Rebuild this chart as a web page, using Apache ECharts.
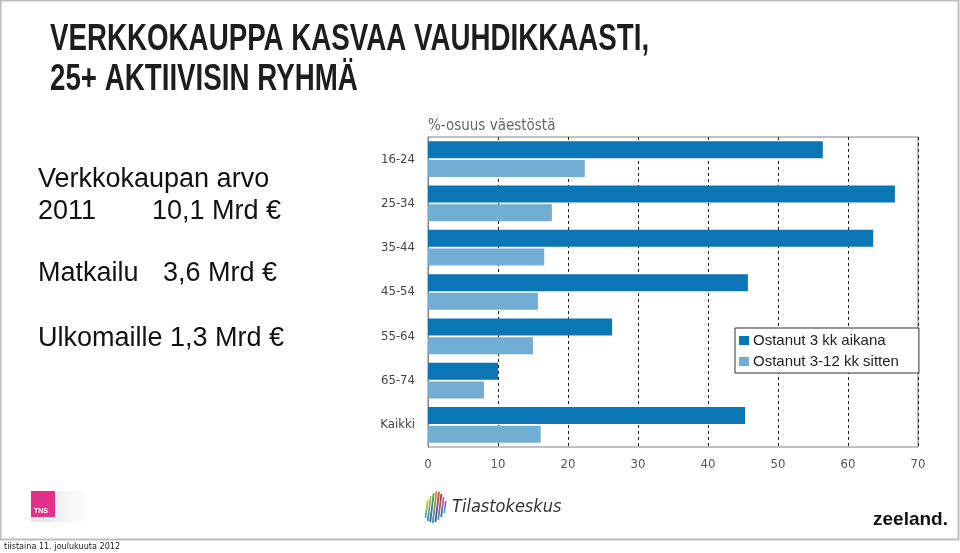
<!DOCTYPE html>
<html>
<head>
<meta charset="utf-8">
<script src="https://cdn.jsdelivr.net/npm/echarts@6/dist/echarts.min.js"></script>
<style>
  html, body { margin: 0; padding: 0; background: #fff; }
  #chart { width: 960px; height: 553px; }
</style>
</head>
<body>
<div id="chart"></div>
<script>
const ageGroups = ['16-24', '25-34', '35-44', '45-54', '55-64', '65-74', 'Kaikki']
const bought3kk = [56.4, 66.7, 63.6, 45.7, 26.3, 10.0, 45.3]
const bought3to12kk = [22.4, 17.7, 16.6, 15.7, 15.0, 8.0, 16.1]
const seriesNames = ['Ostanut 3 kk aikana', 'Ostanut 3-12 kk sitten']
const xTicks = { min: 0, max: 70, interval: 10 }

const narrow = "'DejaVu Sans Condensed', 'Liberation Sans', sans-serif"
const sans = "'Liberation Sans', Arial, sans-serif"

const chart = echarts.init(document.getElementById('chart'))

// left-hand notes from the slide
const notes = [
  { text: 'Verkkokaupan arvo', x: 38, y: 180 },
  { text: '2011', x: 38, y: 212 },
  { text: '10,1 Mrd €', x: 152, y: 212 },
  { text: 'Matkailu', x: 38, y: 274 },
  { text: '3,6 Mrd €', x: 163, y: 274 },
  { text: 'Ulkomaille 1,3 Mrd €', x: 38, y: 339 },
]

// stripes of the Tilastokeskus logo: [top colour, bottom colour, top y, bottom y]
const stripes = [
  ['#f4c400', '#39a9e0', 500, 518],
  ['#a7cc3a', '#2b86c9', 496, 521],
  ['#4cae48', '#1f63ad', 493, 522],
  ['#f08a1c', '#2f8fd0', 491, 523],
  ['#e5412d', '#1c5aa6', 492, 522],
  ['#c8232c', '#3aa6df', 494, 520],
  ['#e25a8f', '#2574bd', 497, 517],
  ['#8d5aa6', '#47b7e6', 501, 513],
]

const titleFont = 'bold 36px ' + sans

chart.setOption({
  animation: false,
  graphic: [
    // slide frame
    {
      type: 'rect',
      shape: { x: 0.5, y: 0.5, width: 958, height: 539 },
      style: { fill: 'none', stroke: '#bdbdbd', lineWidth: 2 },
      silent: true,
    },
    {
      type: 'text',
      x: 50,
      y: 40,
      scaleX: 0.77,
      style: { text: 'VERKKOKAUPPA KASVAA VAUHDIKKAASTI,', x: 0, y: 0, font: titleFont, fill: '#1d1d1d', verticalAlign: 'middle' },
    },
    {
      type: 'text',
      x: 50,
      y: 80,
      scaleX: 0.77,
      style: { text: '25+ AKTIIVISIN RYHMÄ', x: 0, y: 0, font: titleFont, fill: '#1d1d1d', verticalAlign: 'middle' },
    },
    ...notes.map((n) => ({
      type: 'text',
      style: { text: n.text, x: n.x, y: n.y, font: '27px ' + sans, fill: '#111', verticalAlign: 'middle' },
    })),
    {
      type: 'text',
      style: { text: '%-osuus väestöstä', x: 428, y: 126, font: '15px ' + narrow, fill: '#666', verticalAlign: 'middle' },
    },
    // TNS logo
    {
      type: 'rect',
      shape: { x: 31, y: 491, width: 58, height: 31 },
      style: {
        fill: new echarts.graphic.LinearGradient(0, 0, 1, 0, [
          { offset: 0, color: '#e3e3e3' },
          { offset: 1, color: '#ffffff' },
        ]),
      },
    },
    {
      type: 'rect',
      shape: { x: 31, y: 491, width: 24, height: 26 },
      style: { fill: '#e3318a' },
    },
    {
      type: 'text',
      style: { text: 'TNS', x: 34, y: 511, font: 'bold 7px ' + sans, fill: '#fff', verticalAlign: 'middle' },
    },
    // Tilastokeskus logo
    ...stripes.map((s, i) => {
      const x0 = 424 + i * 2.6
      const slant = 0.12
      return {
        type: 'polygon',
        shape: {
          points: [
            [x0 + (523 - s[2]) * slant, s[2]],
            [x0 + 1.8 + (523 - s[2]) * slant, s[2]],
            [x0 + 1.8 + (523 - s[3]) * slant, s[3]],
            [x0 + (523 - s[3]) * slant, s[3]],
          ],
        },
        style: {
          fill: new echarts.graphic.LinearGradient(0, 0, 0, 1, [
            { offset: 0, color: s[0] },
            { offset: 1, color: s[1] },
          ]),
        },
      }
    }),
    {
      type: 'text',
      style: { text: 'Tilastokeskus', x: 452, y: 507, font: 'italic 18px ' + narrow, fill: '#333', verticalAlign: 'middle' },
    },
    // zeeland logo
    {
      type: 'text',
      style: { text: 'zeeland.', x: 948, y: 520, font: 'bold 19px ' + sans, fill: '#111', align: 'right', verticalAlign: 'middle' },
    },
    {
      type: 'text',
      style: { text: 'tiistaina 11. joulukuuta 2012', x: 4, y: 547, font: '9px ' + narrow, fill: '#222', verticalAlign: 'middle' },
    },
  ],
  legend: {
    data: seriesNames,
    orient: 'vertical',
    left: 735,
    top: 328,
    padding: [5, 20, 4, 4],
    itemGap: 6,
    itemWidth: 10,
    itemHeight: 9,
    icon: 'rect',
    backgroundColor: '#fff',
    borderColor: '#333',
    borderWidth: 1,
    textStyle: { fontFamily: sans, fontSize: 15, color: '#222', padding: [0, 0, 0, -1] },
  },
  grid: {
    left: 428,
    top: 137,
    width: 490,
    height: 310,
    show: true,
    borderColor: '#808080',
    borderWidth: 1,
    containLabel: false,
  },
  xAxis: {
    type: 'value',
    min: xTicks.min,
    max: xTicks.max,
    interval: xTicks.interval,
    axisLine: { show: false },
    axisTick: { show: false },
    axisLabel: { color: '#555', fontFamily: narrow, fontSize: 13, margin: 11 },
    splitLine: {
      show: true,
      lineStyle: { color: '#222', type: [3, 3], width: 1 },
    },
  },
  yAxis: {
    type: 'category',
    data: ageGroups,
    inverse: true,
    axisLine: { show: true, lineStyle: { color: '#808080' } },
    axisTick: { show: false },
    axisLabel: { color: '#444', fontFamily: narrow, fontSize: 13, margin: 13 },
  },
  series: [
    {
      name: seriesNames[0],
      type: 'bar',
      data: bought3kk,
      barWidth: 17,
      barGap: '10%',
      itemStyle: { color: '#0a76b5' },
    },
    {
      name: seriesNames[1],
      type: 'bar',
      data: bought3to12kk,
      barWidth: 17,
      barGap: '10%',
      itemStyle: { color: '#72aed4' },
    },
  ],
})
</script>
</body>
</html>
